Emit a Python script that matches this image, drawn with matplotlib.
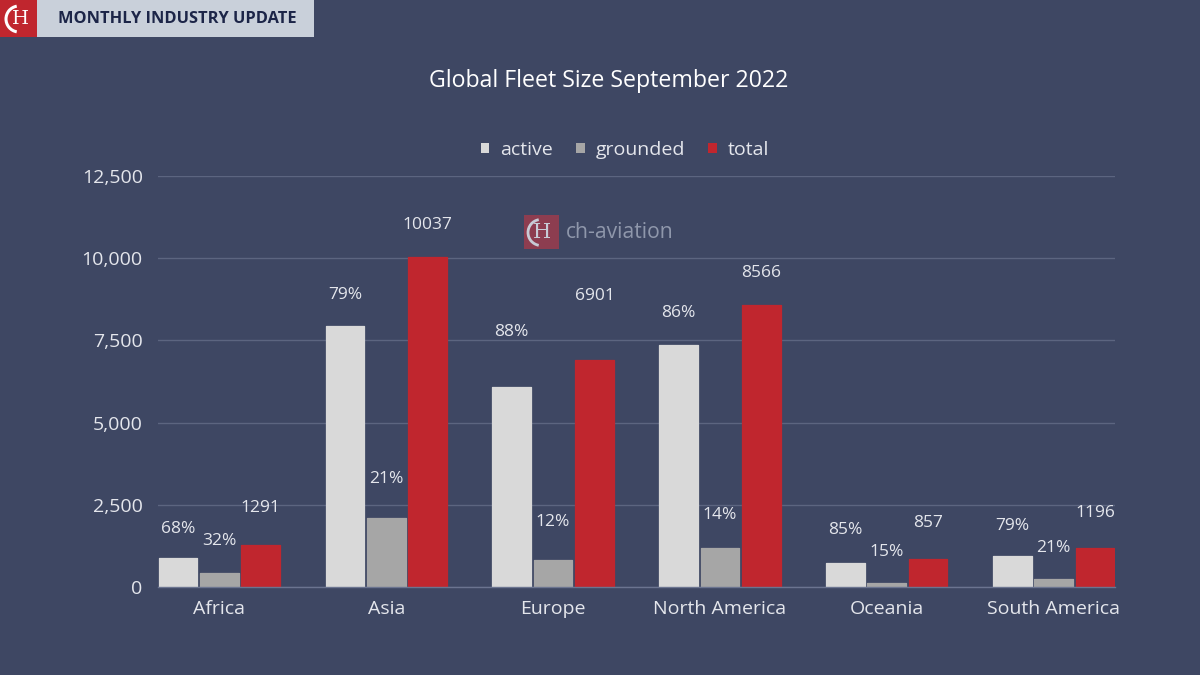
import matplotlib
matplotlib.use("Agg")
import matplotlib.pyplot as plt
import numpy as np
from matplotlib.patches import Rectangle, Patch, Arc

plt.rcParams["font.family"] = ["Open Sans", "DejaVu Sans"]

# data
regions = ["Africa", "Asia", "Europe", "North America", "Oceania", "South America"]
active = [878, 7929, 6073, 7367, 728, 945]
grounded = [413, 2108, 828, 1199, 129, 251]
total = [1291, 10037, 6901, 8566, 857, 1196]
y_ticks = [0, 2500, 5000, 7500, 10000, 12500]

# label lift above each bar, in pixels (Europe labels sit higher in the original)
lift_active = [29, 31, 55, 32, 33, 30]
lift_grounded = [32, 39, 38, 33, 31, 31]
lift_total = [37, 32, 64, 32, 36, 35]

BG = "#3e4763"
C_ACTIVE = "#d9d9d9"
C_GROUNDED = "#a6a6a6"
C_TOTAL = "#c0262e"
TXT = "#e4e6ec"
GRID = "#5c6580"

fig = plt.figure(figsize=(12, 6.75), dpi=100, facecolor=BG)
ax = fig.add_axes([158 / 1200, 1 - 587 / 675, (1115 - 158) / 1200, (587 - 176) / 675])
ax.set_facecolor(BG)

x = np.arange(len(regions))
w = 0.232
step = 0.248
series = [
    (active, C_ACTIVE, -step, "active"),
    (grounded, C_GROUNDED, 0.0, "grounded"),
    (total, C_TOTAL, step, "total"),
]
for vals, col, off, name in series:
    ax.bar(x + off, vals, width=w, color=col, edgecolor=col, linewidth=0.9,
           joinstyle="round", zorder=3, label=name)

px = 72 / 100  # points per pixel
for i in range(len(regions)):
    pa = round(active[i] / total[i] * 100)
    pg = round(grounded[i] / total[i] * 100)
    for xv, yv, txt, lift in [
        (x[i] - step, active[i], f"{pa}%", lift_active[i]),
        (x[i], grounded[i], f"{pg}%", lift_grounded[i]),
        (x[i] + step, total[i], f"{total[i]}", lift_total[i]),
    ]:
        ax.annotate(txt, (xv, yv), xytext=(0, lift * px), textcoords="offset points",
                    ha="center", va="center", fontsize=12.5, color=TXT, zorder=5)

ax.set_xlim(-step - 0.12, len(regions) - 1 + step + 0.12)
ax.set_ylim(0, 12500)
ax.set_yticks(y_ticks)
ax.set_yticklabels([f"{t:,}" for t in y_ticks])
ax.set_xticks(x)
ax.set_xticklabels(regions)
ax.tick_params(axis="both", length=0, colors=TXT, labelsize=14)
ax.tick_params(axis="y", pad=11)
ax.tick_params(axis="x", pad=9)
ax.grid(axis="y", color=GRID, linewidth=1.0, zorder=0)
for s in ["top", "right", "left"]:
    ax.spines[s].set_visible(False)
ax.spines["bottom"].set_color("#6b7490")
ax.spines["bottom"].set_linewidth(1.0)
ax.spines["bottom"].set_zorder(4)

fig.text(609 / 1200, 1 - 81 / 675, "Global Fleet Size September 2022",
         ha="center", va="center", fontsize=16.7, color="white")

handles = [Patch(facecolor=c, edgecolor="none", label=n) for _, c, _, n in series]
fig.legend(handles=handles, loc="center", bbox_to_anchor=(625 / 1200, 1 - 150 / 675),
           ncol=3, frameon=False, fontsize=14, labelcolor=TXT, handlelength=0.45,
           handleheight=0.45, handletextpad=0.55, columnspacing=1.2)

# watermark
wm_ax = fig.add_axes([0, 0, 1, 1], facecolor="none")
wm_ax.set_xlim(0, 1200)
wm_ax.set_ylim(675, 0)
wm_ax.axis("off")
wm_ax.add_patch(Rectangle((524, 215), 35, 34, facecolor="#a83a4a", alpha=0.75, edgecolor="none"))
wm_ax.text(542, 232.5, "H", ha="center", va="center", fontsize=15, color="#c7cbd6",
           family="DejaVu Serif")
wm_ax.add_patch(Arc((541, 232.5), 26, 26, theta1=100, theta2=260, color="#c7cbd6", lw=2))
wm_ax.text(566, 232, "ch-aviation", ha="left", va="center", fontsize=15.2, color="#8f97ab")

# header
wm_ax.add_patch(Rectangle((0, 0), 37, 37, facecolor="#c0262e", edgecolor="none"))
wm_ax.add_patch(Rectangle((37, 0), 277, 37, facecolor="#c9d0da", edgecolor="none"))
wm_ax.text(20, 19, "H", ha="center", va="center", fontsize=14, color="white",
           family="DejaVu Serif")
wm_ax.add_patch(Arc((19, 19), 26, 26, theta1=100, theta2=260, color="white", lw=2.2))
wm_ax.text(58, 19, "MONTHLY INDUSTRY UPDATE", ha="left", va="center", fontsize=11.8,
           fontweight="bold", color="#1c2548")

fig.savefig("out.png", dpi=100, facecolor=BG)
